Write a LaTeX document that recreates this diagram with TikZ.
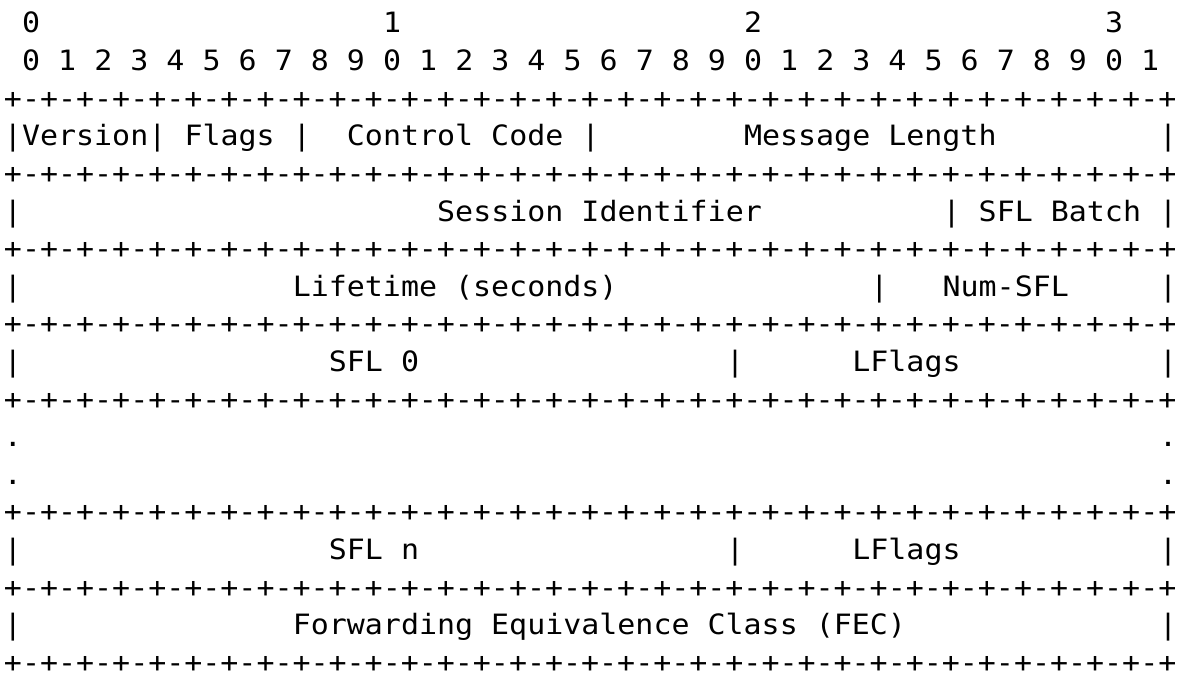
\documentclass[tikz,border=0pt]{standalone}
\usepackage{fontspec}
\newfontfamily\asciimono{DejaVu Sans Mono}[FakeStretch=1.07]
\newcommand\asciiseg[4]{\node[seg] (#1) at ({4+18.05*#2},{-33-37.6*#3}) {#4};}
\begin{document}
\begin{tikzpicture}[x=1pt,y=1pt,
  seg/.style={anchor=base west, inner sep=0pt, outer sep=0pt,
    font=\asciimono\fontsize{28}{34}\selectfont, text=black}]
\fill[white] (0,0) rectangle (1182,-674);
\useasboundingbox (0,0) rectangle (1182,-674);
% row 0: decade digits
\asciiseg{t0}{1}{0}{0}
\asciiseg{t1}{21}{0}{1}
\asciiseg{t2}{41}{0}{2}
\asciiseg{t3}{61}{0}{3}
% row 1: bit numbers
\foreach \c in {0,...,31}{
  \pgfmathtruncatemacro\dg{mod(\c,10)}
  \pgfmathtruncatemacro\cc{1+2*\c}
  \asciiseg{d\c}{\cc}{1}{\dg}
}
% border rows
\foreach \r in {2,4,6,8,10,13,15,17}{
  \asciiseg{b\r}{0}{\r}{+-+-+-+-+-+-+-+-+-+-+-+-+-+-+-+-+-+-+-+-+-+-+-+-+-+-+-+-+-+-+-+-+}
}
% row 3
\asciiseg{r3a}{0}{3}{|Version|}
\asciiseg{r3b}{10}{3}{Flags}
\asciiseg{r3c}{16}{3}{|}
\asciiseg{r3d}{19}{3}{Control Code}
\asciiseg{r3e}{32}{3}{|}
\asciiseg{r3f}{41}{3}{Message Length}
\asciiseg{r3g}{64}{3}{|}
% row 5
\asciiseg{r5a}{0}{5}{|}
\asciiseg{r5b}{24}{5}{Session Identifier}
\asciiseg{r5c}{52}{5}{|}
\asciiseg{r5d}{54}{5}{SFL Batch}
\asciiseg{r5e}{64}{5}{|}
% row 7
\asciiseg{r7a}{0}{7}{|}
\asciiseg{r7b}{16}{7}{Lifetime (seconds)}
\asciiseg{r7c}{48}{7}{|}
\asciiseg{r7d}{52}{7}{Num-SFL}
\asciiseg{r7e}{64}{7}{|}
% row 9
\asciiseg{r9a}{0}{9}{|}
\asciiseg{r9b}{18}{9}{SFL 0}
\asciiseg{r9c}{40}{9}{|}
\asciiseg{r9d}{47}{9}{LFlags}
\asciiseg{r9e}{64}{9}{|}
% rows 11, 12: dots
\asciiseg{r11a}{0}{11}{.}
\asciiseg{r11b}{64}{11}{.}
\asciiseg{r12a}{0}{12}{.}
\asciiseg{r12b}{64}{12}{.}
% row 14
\asciiseg{r14a}{0}{14}{|}
\asciiseg{r14b}{18}{14}{SFL n}
\asciiseg{r14c}{40}{14}{|}
\asciiseg{r14d}{47}{14}{LFlags}
\asciiseg{r14e}{64}{14}{|}
% row 16
\asciiseg{r16a}{0}{16}{|}
\asciiseg{r16b}{16}{16}{Forwarding Equivalence Class (FEC)}
\asciiseg{r16c}{64}{16}{|}
\end{tikzpicture}
\end{document}
